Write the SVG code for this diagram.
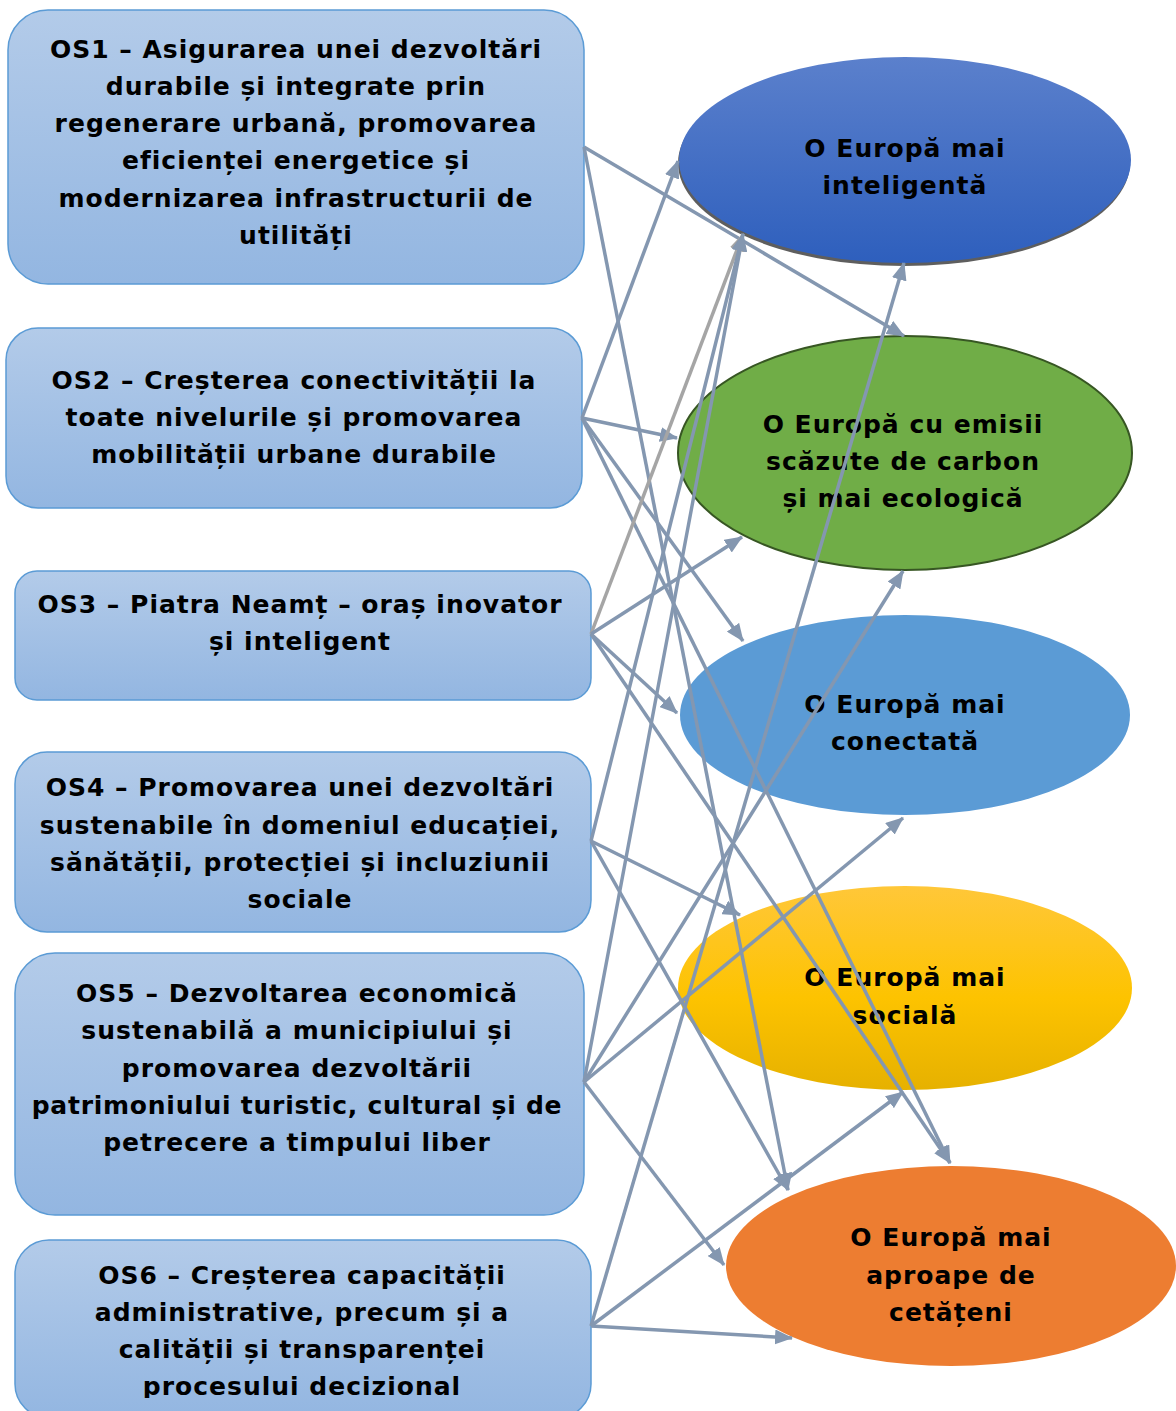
<svg xmlns="http://www.w3.org/2000/svg" width="1176" height="1411" viewBox="0 0 1176 1411">
<defs>
<style>
.box{fill:url(#gBox);stroke:#5b9bd5;stroke-width:1.5}
.t{font-family:"DejaVu Sans","Verdana",sans-serif;font-weight:bold;font-size:25px;letter-spacing:1px;fill:#000;text-anchor:middle}
.c{stroke:#8497b0;stroke-width:3.5;fill:none;marker-end:url(#ah)}
.g{stroke:#a5a5a5;stroke-width:3.5;fill:none;marker-end:url(#ahg)}
</style>
<linearGradient id="gBox" x1="0" y1="0" x2="0" y2="1"><stop offset="0" stop-color="#b3cbe9"/><stop offset="1" stop-color="#93b6e1"/></linearGradient>
<linearGradient id="gE1" x1="0" y1="0" x2="0" y2="1"><stop offset="0" stop-color="#5b80cc"/><stop offset="1" stop-color="#2e5fbd"/></linearGradient>
<linearGradient id="gE4" x1="0" y1="0" x2="0" y2="1"><stop offset="0" stop-color="#ffc739"/><stop offset="0.55" stop-color="#fdc300"/><stop offset="1" stop-color="#e6b100"/></linearGradient>
<marker id="ah" markerUnits="userSpaceOnUse" markerWidth="18" markerHeight="15" refX="17" refY="7.5" orient="auto"><path d="M0,0 L18,7.5 L0,15 z" fill="#8497b0"/></marker>
<marker id="ahg" markerUnits="userSpaceOnUse" markerWidth="18" markerHeight="15" refX="17" refY="7.5" orient="auto"><path d="M0,0 L18,7.5 L0,15 z" fill="#a5a5a5"/></marker>
<clipPath id="clip6"><rect x="0" y="1230" width="600" height="168"/></clipPath>
</defs>

<g id="os1"><rect class="box" x="8" y="10" width="576" height="274" rx="40"/>
<text class="t"><tspan x="296" y="58">OS1 – Asigurarea unei dezvoltări</tspan><tspan x="296" y="95">durabile și integrate prin</tspan><tspan x="296" y="132">regenerare urbană, promovarea</tspan><tspan x="296" y="169">eficienței energetice și</tspan><tspan x="296" y="207">modernizarea infrastructurii de</tspan><tspan x="296" y="244">utilități</tspan></text></g>

<g id="os2"><rect class="box" x="6" y="328" width="576" height="180" rx="32"/>
<text class="t"><tspan x="294" y="389">OS2 – Creșterea conectivității la</tspan><tspan x="294" y="426">toate nivelurile și promovarea</tspan><tspan x="294" y="463">mobilității urbane durabile</tspan></text></g>

<g id="os3"><rect class="box" x="15" y="571" width="576" height="129" rx="22"/>
<text class="t"><tspan x="300" y="613">OS3 – Piatra Neamț – oraș inovator</tspan><tspan x="300" y="650">și inteligent</tspan></text></g>

<g id="os4"><rect class="box" x="15" y="752" width="576" height="180" rx="32"/>
<text class="t"><tspan x="300" y="796">OS4 – Promovarea unei dezvoltări</tspan><tspan x="300" y="834">sustenabile în domeniul educației,</tspan><tspan x="300" y="871">sănătății, protecției și incluziunii</tspan><tspan x="300" y="908">sociale</tspan></text></g>

<g id="os5"><rect class="box" x="15" y="953" width="569" height="262" rx="40"/>
<text class="t"><tspan x="297" y="1002">OS5 – Dezvoltarea economică</tspan><tspan x="297" y="1039">sustenabilă a municipiului și</tspan><tspan x="297" y="1077">promovarea dezvoltării</tspan><tspan x="297" y="1114" letter-spacing="0.75">patrimoniului turistic, cultural și de</tspan><tspan x="297" y="1151">petrecere a timpului liber</tspan></text></g>

<g id="os6"><rect class="box" x="15" y="1240" width="576" height="178" rx="34"/>
<text class="t" clip-path="url(#clip6)"><tspan x="302" y="1284">OS6 – Creșterea capacității</tspan><tspan x="302" y="1321">administrative, precum și a</tspan><tspan x="302" y="1358">calității și transparenței</tspan><tspan x="302" y="1395">procesului decizional</tspan></text></g>

<g id="e1"><ellipse cx="904" cy="163" rx="226" ry="103" fill="#5e5e5e"/><ellipse cx="905" cy="160" rx="226" ry="103" fill="url(#gE1)"/>
<text class="t"><tspan x="905" y="157">O Europă mai</tspan><tspan x="905" y="194">inteligentă</tspan></text></g>

<g id="e2"><ellipse cx="905" cy="453" rx="227" ry="117" fill="#70ad47" stroke="#375623" stroke-width="2"/>
<text class="t"><tspan x="903" y="433">O Europă cu emisii</tspan><tspan x="903" y="470">scăzute de carbon</tspan><tspan x="903" y="507">și mai ecologică</tspan></text></g>

<g id="e3"><ellipse cx="905" cy="715" rx="225" ry="100" fill="#5b9bd5"/>
<text class="t"><tspan x="905" y="713">O Europă mai</tspan><tspan x="905" y="750">conectată</tspan></text></g>

<g id="e4"><ellipse cx="905" cy="988" rx="227" ry="102" fill="url(#gE4)"/>
<text class="t"><tspan x="905" y="986">O Europă mai</tspan><tspan x="905" y="1024">socială</tspan></text></g>

<g id="e5"><ellipse cx="951" cy="1266" rx="225" ry="100" fill="#ed7d31"/>
<text class="t"><tspan x="951" y="1246">O Europă mai</tspan><tspan x="951" y="1284">aproape de</tspan><tspan x="951" y="1321">cetățeni</tspan></text></g>

<g id="connectors">
<line class="c" x1="584" y1="147" x2="904" y2="336"/>
<line class="c" x1="584" y1="147" x2="788" y2="1190"/>
<line class="c" x1="582" y1="418" x2="678" y2="161"/>
<line class="c" x1="582" y1="418" x2="677" y2="438"/>
<line class="c" x1="582" y1="418" x2="743" y2="641"/>
<line class="c" x1="582" y1="418" x2="950" y2="1163"/>
<line class="g" x1="591" y1="634" x2="743" y2="234"/>
<line class="c" x1="591" y1="634" x2="742" y2="537"/>
<line class="c" x1="591" y1="634" x2="677" y2="713"/>
<line class="c" x1="591" y1="634" x2="950" y2="1163"/>
<line class="c" x1="591" y1="841" x2="743" y2="234"/>
<line class="c" x1="591" y1="841" x2="740" y2="915"/>
<line class="c" x1="591" y1="841" x2="788" y2="1190"/>
<line class="c" x1="584" y1="1082" x2="743" y2="234"/>
<line class="c" x1="584" y1="1082" x2="903" y2="571"/>
<line class="c" x1="584" y1="1082" x2="903" y2="818"/>
<line class="c" x1="584" y1="1082" x2="724" y2="1265"/>
<line class="c" x1="591" y1="1326" x2="904" y2="263"/>
<line class="c" x1="591" y1="1326" x2="903" y2="1092"/>
<line class="c" x1="591" y1="1326" x2="792" y2="1338"/>
</g>
</svg>
